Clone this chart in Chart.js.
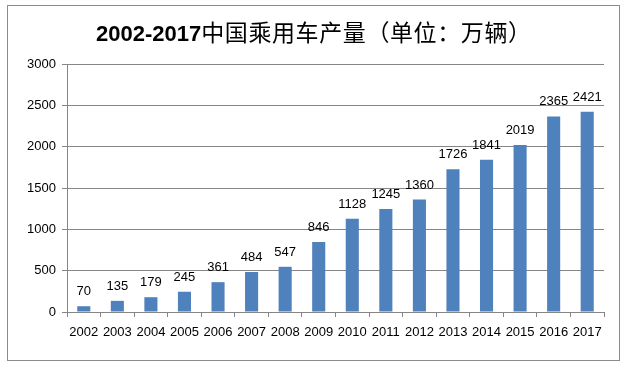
<!DOCTYPE html>
<html>
<head>
<meta charset="utf-8">
<script src="https://cdn.jsdelivr.net/npm/chart.js@4/dist/chart.umd.min.js"></script>
<style>
  body { margin: 0; background: #fff; }
  #wrap { position: relative; width: 628px; height: 368px; }
  #title {
    position: absolute; left: 96px; top: 15px;
    font: 23px "Noto Sans CJK SC", sans-serif; color: #000;
    white-space: nowrap; line-height: 32px; letter-spacing: 0.6px;
  }
  #title b { font: bold 22px "Liberation Sans", Arial, sans-serif; letter-spacing: 0; }
</style>
</head>
<body>
<div id="wrap">
  <canvas id="chart" width="628" height="368"></canvas>
  <div id="title"><b>2002-2017</b>中国乘用车产量（单位：万辆）</div>
</div>
<script>
const years = ['2002','2003','2004','2005','2006','2007','2008','2009','2010','2011','2012','2013','2014','2015','2016','2017'];
const output = [70, 135, 179, 245, 361, 484, 547, 846, 1128, 1245, 1360, 1726, 1841, 2019, 2365, 2421];
const yTicks = [0, 500, 1000, 1500, 2000, 2500, 3000];

const axisGray = '#868686';
const tickFont = { family: '"Liberation Sans", Arial, sans-serif', size: 13 };

// outer frame like the spreadsheet chart box
const framePlugin = {
  id: 'frame',
  beforeDraw(chart) {
    const ctx = chart.ctx;
    ctx.save();
    ctx.fillStyle = '#fff';
    ctx.fillRect(0, 0, chart.width, chart.height);
    ctx.strokeStyle = '#8c8c8c';
    ctx.lineWidth = 1;
    ctx.strokeRect(7.5, 5.5, 612, 355);
    ctx.restore();
  }
};

// value labels above each bar
const valueLabels = {
  id: 'valueLabels',
  afterDatasetsDraw(chart) {
    const ctx = chart.ctx;
    const meta = chart.getDatasetMeta(0);
    ctx.save();
    ctx.font = tickFont.size + 'px ' + tickFont.family;
    ctx.fillStyle = '#000';
    ctx.textAlign = 'center';
    ctx.textBaseline = 'alphabetic';
    meta.data.forEach((bar, i) => {
      ctx.fillText(output[i], bar.x, bar.y - 11);
    });
    ctx.restore();
  }
};

new Chart(document.getElementById('chart').getContext('2d'), {
  type: 'bar',
  data: {
    labels: years,
    datasets: [{
      data: output,
      backgroundColor: '#4F81BD',
      barPercentage: 0.39,
      categoryPercentage: 1
    }]
  },
  options: {
    responsive: false,
    animation: false,
    layout: { padding: { top: 64, right: 24, left: 0, bottom: 0 } },
    plugins: {
      legend: { display: false },
      title: { display: false },
      tooltip: { enabled: false }
    },
    scales: {
      x: {
        offset: true,
        grid: {
          offset: true,
          drawOnChartArea: false,
          drawTicks: true,
          tickLength: 5,
          color: axisGray
        },
        border: { color: axisGray },
        ticks: { color: '#000', font: tickFont, padding: 8, maxRotation: 0 },
        afterFit(scale) { scale.height = 56; }
      },
      y: {
        min: 0,
        max: 3000,
        afterBuildTicks(scale) { scale.ticks = yTicks.map(v => ({ value: v })); },
        grid: { color: axisGray, tickLength: 5 },
        border: { color: axisGray },
        ticks: { color: '#000', font: tickFont, padding: 6, callback: v => String(v) },
        afterFit(scale) { scale.width = 67; }
      }
    }
  },
  plugins: [framePlugin, valueLabels]
});
</script>
</body>
</html>
